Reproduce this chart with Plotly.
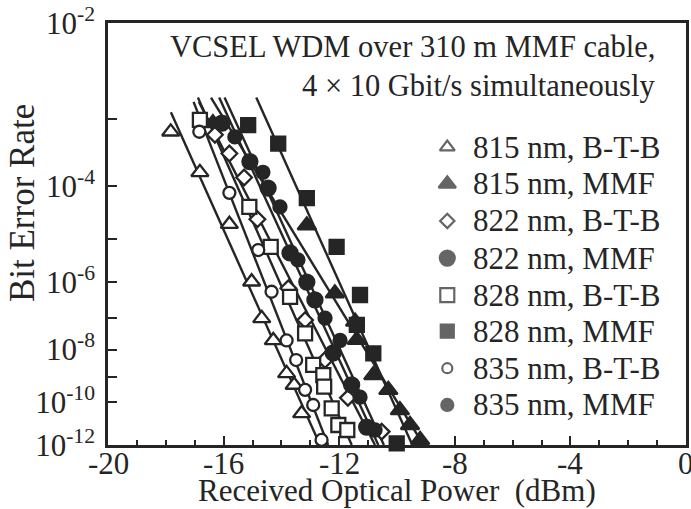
import numpy as np
import plotly.graph_objects as go

# Received optical power (dBm) and measured bit error rate for each channel.
# B-T-B = back-to-back, MMF = after 310 m multimode fibre cable.
p815_btb = [-17.83, -16.82, -15.80, -15.03, -14.68, -14.28, -13.82, -13.56, -13.30]
ber815_btb = [6.7e-4, 1.7e-4, 2.0e-5, 1.0e-6, 9.8e-8, 2.0e-8, 1.4e-9, 5.0e-10, 3.2e-11]

p815_mmf = [-16.37, -13.12, -12.15, -11.45, -11.39, -10.82, -10.30, -9.90, -9.55, -9.20]
ber815_mmf = [8.7e-4, 1.9e-5, 5.0e-7, 7.8e-8, 2.1e-8, 1.2e-9, 3.2e-10, 4.5e-11, 9.5e-12, 1.8e-12]

p822_btb = [-16.30, -15.80, -15.29, -14.83, -13.76, -13.18, -12.49, -11.70, -10.53]
ber822_btb = [6.1e-4, 3.3e-4, 1.4e-4, 2.5e-5, 6.8e-7, 8.7e-8, 4.3e-9, 1.5e-10, 4.6e-12]

p822_mmf = [-16.06, -15.09, -14.46, -13.70, -13.12, -12.84, -12.21, -11.57, -11.05]
ber822_mmf = [8.7e-4, 2.5e-4, 9.3e-5, 4.9e-6, 9.8e-7, 3.3e-7, 7.6e-9, 5.0e-10, 7.6e-12]

p828_btb = [-16.82, -15.11, -14.37, -13.70, -13.18, -12.90, -12.55, -12.52, -12.26, -12.03, -11.72]
ber828_btb = [9.6e-4, 4.3e-5, 6.7e-6, 4.0e-7, 3.4e-8, 2.9e-9, 1.2e-9, 4.3e-10, 5.4e-11, 9.5e-12, 5.5e-12]

p828_mmf = [-15.15, -14.11, -13.12, -12.09, -11.28, -11.39, -10.82, -10.01]
ber828_mmf = [8.2e-4, 4.6e-4, 6.2e-5, 6.7e-6, 4.5e-7, 6.2e-8, 7.4e-9, 1.2e-12]

p835_btb = [-16.84, -15.80, -14.80, -14.34, -13.82, -13.49, -13.18, -12.90, -12.61]
ber835_btb = [6.7e-4, 7.7e-5, 5.7e-6, 5.5e-7, 2.0e-8, 4.3e-9, 3.2e-10, 7.5e-11, 1.8e-12]

p835_mmf = [-15.61, -14.64, -14.05, -13.43, -12.49, -11.97, -11.28, -10.76]
ber835_mmf = [5.7e-4, 1.7e-4, 4.3e-5, 3.4e-6, 1.0e-7, 2.0e-8, 1.6e-10, 5.5e-12]

# upper end of each fitted line (BER); every line runs down to 1e-12
fit_top = [1.2e-3, 1.8e-3, 1.6e-3, 1.8e-3, 1.8e-3, 1.8e-3, 1.6e-3, 1.8e-3]

x_ticks = [-20, -16, -12, -8, -4, 0]
x_tick_text = ["-20", "-16", "-12", "-8", "-4", "0"]

labels = ["815 nm, B-T-B", "815 nm, MMF", "822 nm, B-T-B", "822 nm, MMF",
          "828 nm, B-T-B", "828 nm, MMF", "835 nm, B-T-B", "835 nm, MMF"]
powers = [p815_btb, p815_mmf, p822_btb, p822_mmf, p828_btb, p828_mmf, p835_btb, p835_mmf]
bers = [ber815_btb, ber815_mmf, ber822_btb, ber822_mmf, ber828_btb, ber828_mmf, ber835_btb, ber835_mmf]
# open symbols are drawn as white-filled outlines so the fit lines stay hidden behind them
symbols = ["triangle-up", "triangle-up", "diamond", "circle",
           "square", "square", "circle", "circle"]
hollow = [True, False, True, False, True, False, True, False]
sizes = [15, 16, 12, 15, 14, 14, 12, 13]
legend_sizes = [13, 15, 11, 15, 14, 13, 10, 12]

ink = "#252525"
font = "Liberation Serif, Times New Roman, serif"
fs = 31


def ber_axis(ber):
    """Gaussian-style BER scale: -log10(-log10(BER)), high error rates on top."""
    return -np.log10(-np.log10(np.asarray(ber, dtype=float)))


fig = go.Figure()

# straight-line fits on the BER scale
for p, b, top in zip(powers, bers, fit_top):
    u = ber_axis(b)
    slope, icpt = np.polyfit(u, p, 1)
    u_line = ber_axis([top, 1e-12])
    fig.add_trace(go.Scatter(
        x=slope * u_line + icpt, y=u_line, mode="lines",
        line=dict(color=ink, width=2.4), showlegend=False, hoverinfo="skip"))

# measured points
for p, b, sym, h, sz, name in zip(powers, bers, symbols, hollow, sizes, labels):
    fig.add_trace(go.Scatter(
        x=p, y=ber_axis(b), mode="markers", name=name, showlegend=False,
        marker=dict(symbol=sym, size=sz, color="white" if h else ink,
                    line=dict(color=ink, width=2.3)),
        cliponaxis=False))

# key in the upper right corner, positioned as fractions of the plot area
key_x_marker = 0.587
key_x_text = 0.628
key_rows = [0.706, 0.619, 0.531, 0.443, 0.355, 0.270, 0.182, 0.095]
fig.add_trace(go.Scatter(
    x=[key_x_marker] * len(labels), y=key_rows, xaxis="x2", yaxis="y2",
    mode="markers", showlegend=False, hoverinfo="skip",
    marker=dict(symbol=symbols, size=legend_sizes,
                color=["white" if h else ink for h in hollow],
                line=dict(color=ink, width=2.2))))
for yk, name in zip(key_rows, labels):
    fig.add_annotation(x=key_x_text, y=yk, xref="x2", yref="y2", text=name,
                       showarrow=False, xanchor="left", yanchor="middle",
                       font=dict(family=font, size=fs, color=ink))

fig.add_annotation(x=0.95, y=0.943, xref="x2", yref="y2",
                   text="VCSEL WDM over 310 m MMF cable,", showarrow=False,
                   xanchor="right", yanchor="middle",
                   font=dict(family=font, size=30.5, color=ink))
fig.add_annotation(x=0.95, y=0.85, xref="x2", yref="y2",
                   text="4 \u00d7 10 Gbit/s simultaneously", showarrow=False,
                   xanchor="right", yanchor="middle",
                   font=dict(family=font, size=30.5, color=ink))

# x tick labels sit tight under the axis, the title just below them
for xv, txt in zip(x_ticks, x_tick_text):
    fig.add_annotation(x=xv, y=-0.043, xref="x", yref="paper", text=txt,
                       showarrow=False, xanchor="center", yanchor="middle",
                       font=dict(family=font, size=fs, color=ink))
fig.add_annotation(x=0.5, y=-0.109, xref="paper", yref="paper",
                   text="Received Optical Power  (dBm)",
                   showarrow=False, xanchor="center", yanchor="middle",
                   font=dict(family=font, size=fs, color=ink))
fig.add_annotation(x=-0.149, y=0.573, xref="paper", yref="paper", text="Bit Error Rate",
                   showarrow=False, textangle=-90, xanchor="center", yanchor="middle",
                   font=dict(family=font, size=35, color=ink))

exps = [n for n in range(2, 13) if n != 11]
yticks = [ber_axis(10.0 ** -n) for n in exps]
ytext = ["10<sup>-%d</sup>" % n if n % 2 == 0 else "" for n in exps]

fig.update_layout(
    width=691, height=509,
    margin=dict(l=108, r=5, t=23, b=64),
    paper_bgcolor="white", plot_bgcolor="white",
    font=dict(family=font, size=fs, color=ink),
    xaxis=dict(range=[-20, 0], tickvals=x_ticks, showticklabels=False,
               ticks="inside", ticklen=9, tickwidth=2, tickcolor=ink,
               minor=dict(dtick=1, tick0=0, ticks="inside", ticklen=5, tickwidth=2, tickcolor=ink),
               showline=True, linewidth=2.5, linecolor=ink, mirror=True,
               showgrid=False, zeroline=False, automargin=False),
    yaxis=dict(range=[ber_axis(1e-12), ber_axis(1e-2)], tickvals=yticks, ticktext=ytext,
               ticks="inside", ticklen=9, tickwidth=2, tickcolor=ink,
               showline=True, linewidth=2.5, linecolor=ink, mirror=True,
               showgrid=False, zeroline=False, ticklabelstandoff=4, automargin=False,
               tickfont=dict(family=font, size=fs, color=ink)),
    xaxis2=dict(range=[0, 1], overlaying="x", visible=False, anchor="y2", automargin=False),
    yaxis2=dict(range=[0, 1], overlaying="y", visible=False, anchor="x2", automargin=False),
    showlegend=False,
)

fig.write_html("out.html")
